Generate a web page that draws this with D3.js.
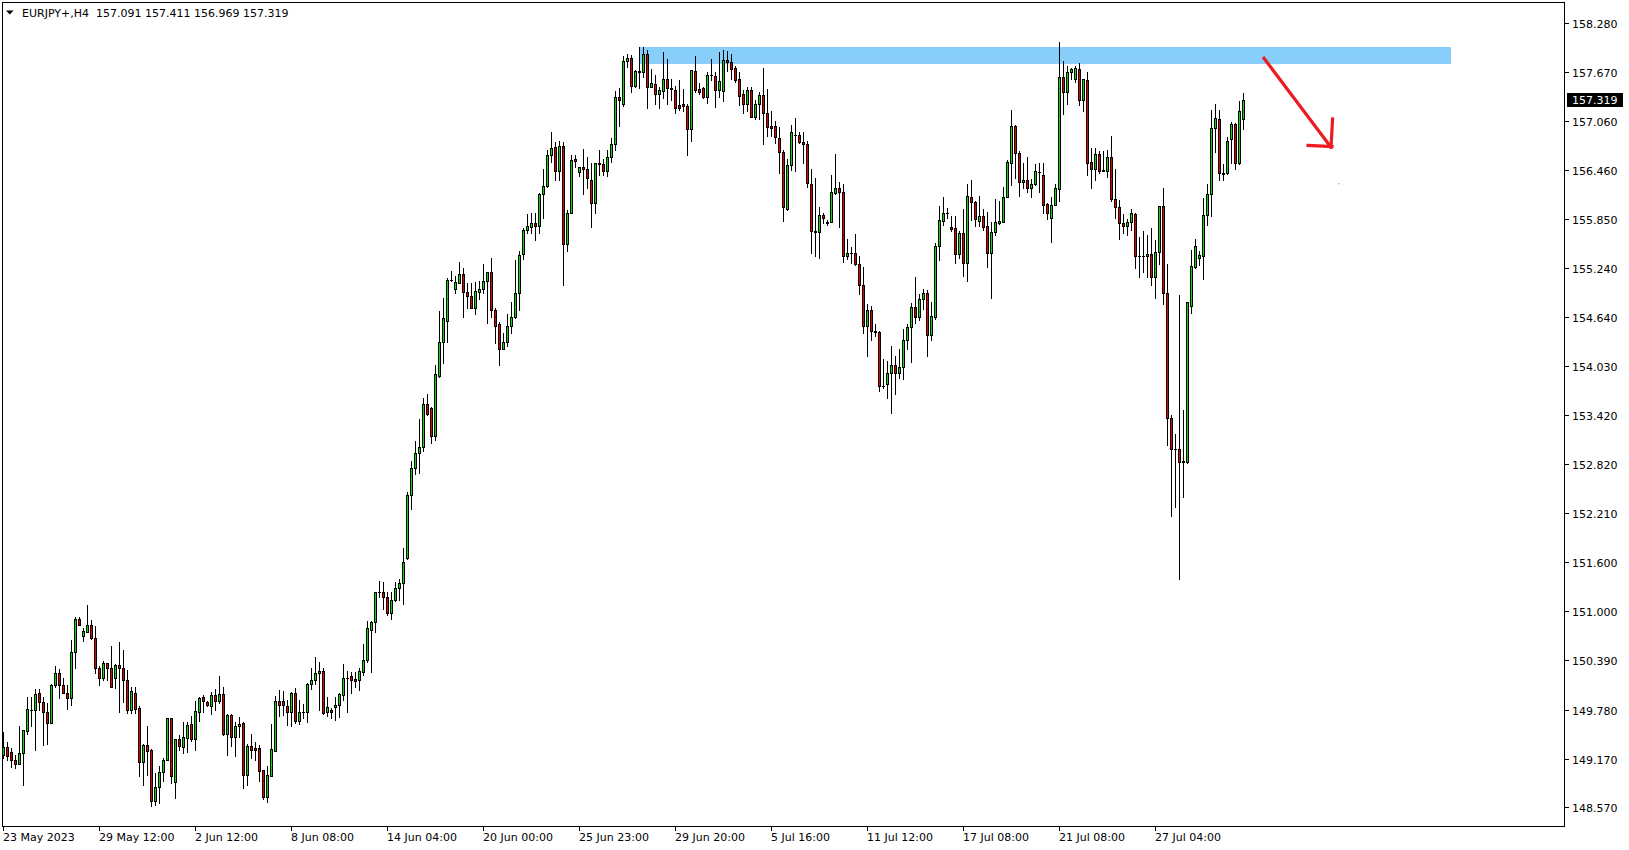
<!DOCTYPE html>
<html><head><meta charset="utf-8">
<script src="https://cdn.jsdelivr.net/npm/d3@7"></script>
<style>html,body{margin:0;padding:0;background:#fff;overflow:hidden}</style>
</head><body><svg id="c" width="1629" height="850"></svg>
<script>
const symbol = "EURJPY+,H4";
const opens = [149.22,149.31,149.26,149.15,149.11,149.24,149.51,149.77,149.77,149.98,
149.87,149.75,149.61,150.08,150.23,150.08,149.99,149.92,150.49,150.90,
150.69,150.74,150.83,150.66,150.29,150.17,150.35,150.30,150.17,150.33,
150.29,150.15,149.77,149.99,149.80,149.13,149.34,149.28,148.65,148.82,
149.01,149.16,149.67,148.88,149.42,149.32,149.43,149.60,149.41,149.75,
149.93,149.87,149.82,149.96,149.88,149.97,149.48,149.71,149.44,149.57,
149.61,148.97,149.33,149.30,149.30,149.03,148.70,148.96,149.27,149.89,
149.89,149.82,149.75,149.99,149.64,149.745,149.75,150.10,150.14,150.23,
150.26,149.75,149.77,149.815,149.84,149.96,150.165,150.19,150.16,150.14,
150.25,150.39,150.77,150.86,151.23,151.23,151.17,150.98,151.13,151.29,
151.35,151.65,152.43,152.77,152.95,153.03,153.56,153.51,153.16,153.91,
154.33,154.59,155.10,154.98,155.06,155.17,154.95,154.90,154.75,154.95,
154.98,155.08,155.19,154.73,154.55,154.24,154.33,154.53,154.64,154.93,
155.415,155.71,155.75,155.80,155.77,156.16,156.26,156.65,156.74,156.44,
156.76,155.54,155.92,156.595,156.43,156.49,156.47,156.34,156.05,156.535,
156.53,156.44,156.62,156.78,157.36,157.27,157.81,157.84,157.50,157.675,
157.67,157.89,157.49,157.52,157.40,157.44,157.59,157.47,157.45,157.26,
157.27,157.25,156.96,157.68,157.46,157.47,157.36,157.635,157.62,157.45,
157.44,157.82,157.79,157.72,157.585,157.40,157.28,157.45,157.12,157.27,
157.39,157.17,157.00,157.00,156.86,156.68,155.98,156.52,156.89,156.89,
156.80,156.78,156.28,155.70,155.695,155.90,155.81,155.81,156.17,156.23,
156.18,155.40,155.43,155.425,155.29,155.04,154.53,154.73,154.46,154.45,
153.785,153.81,153.94,154.045,153.94,154.02,154.35,154.51,154.76,154.64,
154.86,154.94,154.42,154.64,155.52,155.83,155.92,155.75,155.74,155.415,
155.675,155.31,156.12,156.06,155.83,155.89,155.77,155.435,155.695,155.80,
155.81,156.12,156.55,157.00,156.665,156.31,156.335,156.23,156.28,156.435,
156.40,156.04,155.86,156.03,156.22,157.61,157.43,157.67,157.58,157.71,
157.325,157.57,156.56,156.47,156.655,156.46,156.45,156.62,156.10,156.00,
155.80,155.77,155.81,155.91,155.40,155.395,155.39,155.42,155.13,155.44,
156.01,154.94,153.39,153.00,153.00,152.85,152.84,154.77,155.26,155.37,
155.39,155.90,156.16,156.98,157.09,156.42,156.42,156.84,157.03,156.54,
157.091];
const highs = [149.50,149.38,149.30,149.22,149.58,149.53,149.93,149.94,150.03,150.03,
149.94,149.86,150.09,150.32,150.28,150.17,150.08,150.64,150.93,150.92,
150.79,151.07,150.89,150.81,150.32,150.38,150.36,150.57,150.34,150.62,
150.52,150.27,150.06,150.06,149.82,149.35,149.57,149.29,149.00,149.08,
149.18,149.67,149.67,149.42,149.46,149.62,149.62,149.70,149.88,149.94,
149.96,149.88,150.00,150.04,150.20,150.06,149.73,149.73,149.62,149.69,
149.62,149.35,149.48,149.38,149.34,149.03,149.08,149.60,149.95,150.02,
150.01,149.90,150.00,150.05,149.90,149.85,150.11,150.30,150.43,150.37,
150.30,149.93,149.80,149.94,149.98,150.34,150.26,150.25,150.24,150.30,
150.59,150.87,150.88,151.24,151.37,151.36,151.24,151.24,151.36,151.40,
151.78,152.47,152.86,153.10,153.38,153.63,153.68,153.53,154.05,154.71,
154.88,155.12,155.21,155.15,155.32,155.24,155.06,155.06,155.07,155.08,
155.30,155.20,155.37,154.75,154.58,154.44,154.67,154.82,155.34,155.45,
155.74,155.91,155.93,155.92,156.17,156.47,156.71,156.93,156.81,156.82,
156.80,155.96,156.64,156.64,156.50,156.72,156.62,156.54,156.55,156.71,
156.60,156.71,156.86,157.44,157.47,157.87,157.90,157.88,157.70,157.985,
157.985,157.94,157.71,157.64,157.49,157.92,157.83,157.59,157.50,157.57,
157.46,157.28,157.70,157.87,157.54,157.49,157.67,157.83,157.67,157.92,
157.94,157.93,157.90,157.75,157.67,157.45,157.49,157.48,157.33,157.42,
157.72,157.46,157.19,157.07,156.99,156.71,156.60,157.02,157.10,156.93,
156.93,156.82,156.47,156.36,156.00,155.92,155.84,156.40,156.66,156.31,
156.29,155.60,155.50,155.66,155.39,155.26,154.80,154.78,154.55,154.46,
154.12,154.09,154.28,154.15,154.24,154.49,154.55,154.81,155.14,154.92,
154.99,154.97,154.83,155.56,156.01,156.13,155.99,155.89,155.89,155.70,
155.98,156.29,156.34,156.08,156.14,155.98,155.94,155.82,156.10,156.07,
156.25,156.58,157.20,157.02,156.69,156.55,156.62,156.35,156.53,156.54,
156.55,156.05,156.12,156.28,158.04,157.81,157.75,157.72,157.74,157.78,
157.59,157.67,156.73,156.73,156.69,156.69,156.71,156.88,156.47,156.09,
155.91,155.85,155.98,155.92,155.63,155.70,155.65,155.74,155.59,156.01,
156.24,155.30,153.43,153.19,154.91,153.49,154.83,155.47,155.60,155.46,
156.11,156.29,157.20,157.28,157.20,156.53,156.87,157.05,157.04,157.31,
157.411];
const lows = [149.18,149.16,149.07,149.06,149.11,148.84,149.48,149.57,149.28,149.77,
149.34,149.35,149.61,150.06,149.92,149.98,149.79,149.84,150.29,150.82,
150.63,150.74,150.65,150.23,150.08,150.15,150.15,150.06,150.05,149.75,
149.87,149.74,149.74,149.74,148.96,148.85,148.97,148.58,148.60,148.62,
148.90,149.16,148.87,148.68,149.28,149.24,149.25,149.39,149.28,149.64,
149.75,149.82,149.73,149.77,149.86,149.47,149.22,149.33,149.20,149.44,
148.81,148.85,149.18,149.16,148.90,148.67,148.63,148.96,149.27,149.70,
149.71,149.59,149.58,149.61,149.60,149.68,149.63,150.03,150.10,149.77,
149.73,149.70,149.68,149.65,149.69,149.90,149.75,149.99,150.06,150.02,
150.21,150.37,150.24,150.74,151.17,151.02,150.95,150.90,151.12,151.14,
151.09,151.64,152.26,152.70,152.71,152.98,153.43,153.08,153.11,153.89,
154.07,154.33,155.08,154.93,155.06,154.64,154.75,154.75,154.67,154.86,
154.93,154.57,154.64,154.32,154.04,154.24,154.28,154.44,154.63,154.73,
155.36,155.68,155.68,155.59,155.68,155.87,156.25,156.56,156.33,156.33,
155.04,155.46,155.92,156.50,156.38,156.16,156.24,155.75,155.93,156.40,
156.40,156.38,156.56,156.71,157.00,157.25,157.73,157.42,157.48,157.47,
157.61,157.22,157.49,157.28,157.23,157.35,157.27,157.32,157.17,157.20,
157.19,156.65,156.82,157.42,157.40,157.35,157.29,157.57,157.24,157.36,
157.31,157.68,157.58,157.55,157.26,157.17,157.19,157.11,157.09,157.09,
156.78,156.88,156.88,156.79,156.42,155.83,155.96,156.46,156.45,156.79,
156.55,156.25,155.43,155.39,155.37,155.80,155.78,155.81,156.16,155.75,
155.32,155.36,155.31,155.28,154.92,154.44,154.16,154.35,154.40,153.72,
153.76,153.63,153.45,153.68,153.88,153.87,154.24,154.08,154.56,154.60,
154.74,154.15,154.36,154.62,155.35,155.78,155.86,155.70,155.31,155.37,
155.15,155.09,155.84,155.77,155.76,155.71,155.26,154.87,155.65,155.79,
155.81,156.12,156.27,156.36,156.14,156.23,156.19,156.13,156.27,156.19,
155.92,155.85,155.57,156.03,156.07,157.15,157.28,157.59,157.55,157.26,
157.19,156.40,156.23,156.34,156.42,156.44,156.37,156.08,155.87,155.61,
155.68,155.65,155.72,155.24,155.14,155.19,155.14,155.03,154.87,155.30,
154.80,153.06,152.18,152.29,151.39,152.41,152.83,154.69,155.25,155.28,
155.11,155.78,155.89,156.68,156.34,156.34,156.41,156.54,156.47,156.53,
156.969];
const closes = [149.31,149.20,149.15,149.11,149.24,149.53,149.79,149.78,149.97,149.87,
149.75,149.61,150.08,150.23,150.08,149.99,149.92,150.49,150.90,150.83,
150.75,150.83,150.66,150.29,150.17,150.36,150.29,150.06,150.33,150.29,
150.15,149.77,150.01,149.79,149.13,149.34,149.27,148.65,148.82,149.01,
149.16,149.67,148.96,149.42,149.33,149.44,149.59,149.41,149.76,149.92,
149.88,149.83,149.96,149.89,149.97,149.48,149.71,149.44,149.58,149.60,
148.97,149.33,149.28,149.28,149.02,148.70,148.97,149.29,149.89,149.84,
149.83,149.75,149.99,149.64,149.75,149.75,150.10,150.15,150.23,150.26,
149.74,149.81,149.75,149.84,149.97,150.17,150.17,150.15,150.13,150.26,
150.39,150.79,150.86,151.23,151.235,151.17,150.97,151.14,151.29,151.35,
151.61,152.44,152.77,152.95,153.03,153.56,153.44,153.16,153.93,154.33,
154.63,155.10,155.10,155.07,155.17,154.95,154.90,154.75,154.96,154.98,
155.08,155.19,154.73,154.53,154.24,154.33,154.53,154.64,154.93,155.41,
155.71,155.76,155.80,155.76,156.16,156.26,156.65,156.73,156.44,156.76,
155.54,155.92,156.58,156.575,156.49,156.47,156.36,156.05,156.54,156.54,
156.44,156.62,156.78,157.36,157.32,157.81,157.84,157.50,157.68,157.68,
157.89,157.49,157.53,157.40,157.45,157.59,157.47,157.46,157.22,157.22,
157.25,156.96,157.70,157.45,157.43,157.36,157.64,157.64,157.45,157.56,
157.82,157.79,157.71,157.57,157.38,157.28,157.45,157.12,157.27,157.39,
157.17,156.99,156.98,156.87,156.68,156.00,156.52,156.93,156.895,156.80,
156.78,156.30,155.70,155.695,155.90,155.86,155.805,156.18,156.24,156.18,
155.40,155.43,155.425,155.29,155.03,154.53,154.73,154.46,154.45,153.78,
153.79,153.94,154.05,153.94,154.02,154.35,154.51,154.76,154.64,154.86,
154.94,154.42,154.65,155.52,155.84,155.92,155.925,155.73,155.415,155.675,
155.31,156.14,156.06,155.85,155.89,155.75,155.435,155.69,155.81,155.83,
156.12,156.56,157.00,156.665,156.31,156.335,156.23,156.29,156.44,156.43,
156.03,155.92,156.03,156.23,157.61,157.42,157.67,157.705,157.72,157.32,
157.58,156.55,156.47,156.66,156.44,156.45,156.62,156.10,156.00,155.80,
155.77,155.81,155.92,155.40,155.395,155.39,155.42,155.13,155.44,156.01,
154.94,153.39,153.00,153.005,152.85,152.855,154.82,155.27,155.52,155.41,
155.90,156.16,156.98,157.10,156.42,156.41,156.82,157.03,156.54,157.19,
157.319];

const xTickLabels = ["23 May 2023","29 May 12:00","2 Jun 12:00","8 Jun 08:00","14 Jun 04:00","20 Jun 00:00","25 Jun 23:00","29 Jun 20:00","5 Jul 16:00","11 Jul 12:00","17 Jul 08:00","21 Jul 08:00","27 Jul 04:00"];
const xTickBars = [0,24,48,72,96,120,144,168,192,216,240,264,288];
const yTickValues = [158.280,157.670,157.060,156.460,155.850,155.240,154.640,154.030,153.420,152.820,152.210,151.600,151.000,150.390,149.780,149.170,148.570];

// resistance zone (bar index range, price range)
const zoneBars = [159, 362];
const zonePrices = [157.981, 157.771];
// hand-drawn arrow (bar index, price)
const arrowShaft = [[315.25, 157.841], [332.0, 156.740]];
const arrowHeadH = [[326.25, 156.762], [332.25, 156.749]];
const arrowHeadV = [[332.4, 157.090], [332.0, 156.743]];
const arrowDot = [333.8, 156.294];

const svg = d3.select("#c");
const pL = 2, pT = 2, pR = 1565, pB = 826;

const x = d3.scaleLinear().domain([0, 310]).range([3, 1243]);
const y = d3.scaleLinear().domain([148.338, 158.538]).range([pB, pT]);

const bull = "#00e000", bear = "#e00000";
const FONT = "DejaVu Sans, Verdana, sans-serif";

// zone
svg.append("rect")
  .attr("x", x(zoneBars[0])).attr("y", y(zonePrices[0]))
  .attr("width", x(zoneBars[1]) - x(zoneBars[0]))
  .attr("height", y(zonePrices[1]) - y(zonePrices[0]))
  .attr("fill", "#87cefa");

// candles
const data = opens.map((o, i) => ({i, o, h: highs[i], l: lows[i], c: closes[i]}));
const g = svg.append("g").attr("shape-rendering", "crispEdges");
data.forEach(d => {
  const cx = Math.round(x(d.i));
  const yh = Math.round(y(d.h)), yl = Math.round(y(d.l));
  g.append("line").attr("x1", cx + 0.5).attr("x2", cx + 0.5)
    .attr("y1", yh).attr("y2", yl + 1).attr("stroke", "#000").attr("stroke-width", 1);
  const yt = Math.round(y(Math.max(d.o, d.c))), yb = Math.round(y(Math.min(d.o, d.c)));
  if (yb - yt < 1) {
    g.append("line").attr("x1", cx - 1).attr("x2", cx + 2)
      .attr("y1", yt + 0.5).attr("y2", yt + 0.5).attr("stroke", "#000");
  } else {
    g.append("rect").attr("x", cx - 0.5).attr("y", yt + 0.5)
      .attr("width", 2).attr("height", yb - yt)
      .attr("fill", d.c > d.o ? bull : bear).attr("stroke", "#000").attr("stroke-width", 1);
  }
});

// frame
svg.append("rect").attr("x", pL + 0.5).attr("y", pT + 0.5)
  .attr("width", pR - pL - 1).attr("height", pB - pT)
  .attr("fill", "none").attr("stroke", "#000").attr("shape-rendering", "crispEdges");

// y axis
const ya = svg.append("g").attr("shape-rendering", "crispEdges");
yTickValues.forEach(v => {
  const yy = Math.round(y(v)) + 0.5;
  ya.append("line").attr("x1", pR).attr("x2", pR + 4).attr("y1", yy).attr("y2", yy).attr("stroke", "#000");
  ya.append("text").attr("x", pR + 7).attr("y", yy + 4)
    .attr("font-family", FONT).attr("font-size", 11).attr("fill", "#000").text(v.toFixed(3));
});

// x axis
xTickBars.forEach((b, k) => {
  const xx = Math.round(x(b)) + 0.5;
  svg.append("line").attr("x1", xx).attr("x2", xx).attr("y1", pB).attr("y2", pB + 5)
    .attr("stroke", "#000").attr("shape-rendering", "crispEdges");
  svg.append("text").attr("x", xx - 0.5).attr("y", pB + 15)
    .attr("font-family", FONT).attr("font-size", 11).attr("fill", "#000").text(xTickLabels[k]);
});

// arrow
const line = d3.line().x(p => x(p[0])).y(p => y(p[1]));
[arrowShaft, arrowHeadH, arrowHeadV].forEach(seg => {
  svg.append("path").attr("d", line(seg)).attr("fill", "none")
    .attr("stroke", "#ed1c24").attr("stroke-width", 3.2).attr("stroke-linecap", "square");
});
svg.append("rect").attr("x", x(arrowDot[0])).attr("y", y(arrowDot[1])).attr("width", 1).attr("height", 1).attr("fill", "#ed1c24");

// price tag
const last = data[data.length - 1];
const ty = y(last.c);
svg.append("rect").attr("x", pR + 2).attr("y", Math.round(ty) - 7).attr("width", 56).attr("height", 14).attr("fill", "#000");
svg.append("text").attr("x", pR + 7).attr("y", Math.round(ty) + 4)
  .attr("font-family", FONT).attr("font-size", 11).attr("fill", "#fff").text(last.c.toFixed(3));

// header
svg.append("path").attr("d", "M6,10.5 L13.5,10.5 L9.75,14.5 Z").attr("fill", "#000");
svg.append("text").attr("x", 22).attr("y", 17).attr("xml:space", "preserve").style("white-space", "pre")
  .attr("font-family", FONT).attr("font-size", 11).attr("fill", "#000")
  .text(symbol + "  " + [last.o, last.h, last.l, last.c].map(v => v.toFixed(3)).join(" "));
</script>
</body></html>
